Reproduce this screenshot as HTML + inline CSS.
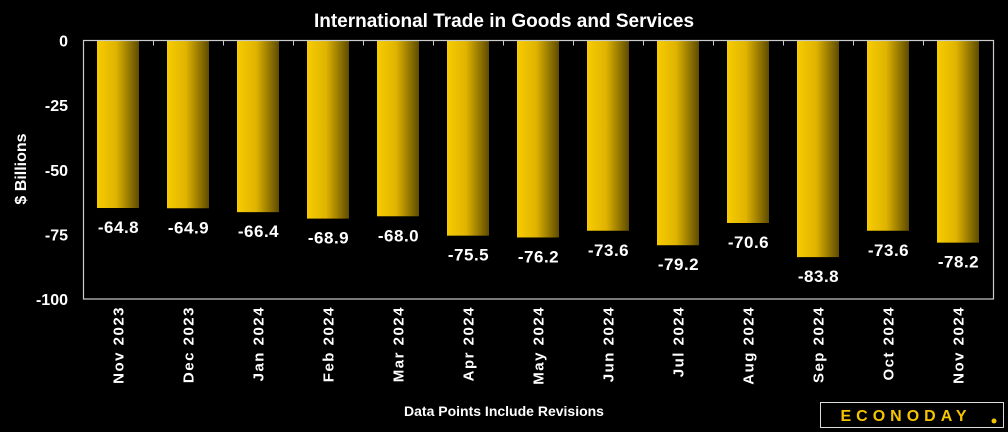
<!DOCTYPE html>
<html><head><meta charset="utf-8"><style>
html,body{margin:0;padding:0;background:#000;}
svg{display:block;font-family:"Liberation Sans",sans-serif;}
</style></head><body>
<svg id="chart" width="1008" height="432" viewBox="0 0 1008 432">
<defs>
<linearGradient id="bg" x1="0" x2="1" y1="0" y2="0">
<stop offset="0" stop-color="#f7cc00"/><stop offset="0.45" stop-color="#e0b400"/><stop offset="1" stop-color="#5e4b00"/>
</linearGradient>
</defs>
<text x="504" y="27" fill="#fff" font-size="19" font-weight="bold" text-anchor="middle">International Trade in Goods and Services</text>
<text transform="translate(26,169) rotate(-90)" fill="#fff" font-size="16" font-weight="bold" text-anchor="middle">$ Billions</text>
<text x="504" y="416" fill="#fff" font-size="14" font-weight="bold" text-anchor="middle">Data Points Include Revisions</text>
<g>
<rect x="820.5" y="402.5" width="183" height="25" fill="#000" stroke="#ddd" stroke-width="1"/>
<text x="906" y="421" fill="#f5c400" font-size="16" font-weight="bold" letter-spacing="5" text-anchor="middle">ECONODAY</text>
<circle cx="994" cy="421" r="2.5" fill="#f5c400"/>
</g>
<g id="plot"></g>
<rect x="83.5" y="40.5" width="910" height="258.5" fill="none" stroke="#ccc" stroke-width="1.2"/>
</svg>
<script>
const categories = ["Nov 2023","Dec 2023","Jan 2024","Feb 2024","Mar 2024","Apr 2024","May 2024","Jun 2024","Jul 2024","Aug 2024","Sep 2024","Oct 2024","Nov 2024"];
const values = [-64.8,-64.9,-66.4,-68.9,-68.0,-75.5,-76.2,-73.6,-79.2,-70.6,-83.8,-73.6,-78.2];
const yTicks = [0,-25,-50,-75,-100];
const NS="http://www.w3.org/2000/svg";
const L=83.5,T=40.5,B=299,W=910;
const bw=W/categories.length;
const y=v=>T+(0-v)/100*(B-T);
const x=i=>L+i*bw;
const g=document.getElementById('plot');
function mk(t,a){const e=document.createElementNS(NS,t);for(const k in a)e.setAttribute(k,a[k]);g.appendChild(e);return e;}
yTicks.forEach(t=>{
 const e=mk('text',{x:68,y:y(t)+6,fill:'#fff','font-size':16,'font-weight':'bold','text-anchor':'end'});
 e.textContent=t;
 
 
});
categories.forEach((c,i)=>{
 if(i>0){const tk=mk('line',{x1:x(i),x2:x(i),y1:T,y2:T+5,stroke:'#ccc'});
 
 }
 const r=mk('rect',{x:x(i)+13.5,y:T,width:42,height:y(values[i])-T,fill:'url(#bg)'});
 
 
 const v=mk('text',{x:x(i)+bw/2,y:y(values[i])+25,fill:'#fff','font-size':17,'font-weight':'bold','text-anchor':'middle','letter-spacing':0.5});
 v.textContent=values[i].toFixed(1);
 
 
 const cx=x(i)+bw/2+5;
 const l=mk('text',{transform:`translate(${cx},306) rotate(-90)`,fill:'#fff','font-size':15,'font-weight':'bold','text-anchor':'end','letter-spacing':1.5});
 l.textContent=c;
 
 
});
</script>
</body></html>
